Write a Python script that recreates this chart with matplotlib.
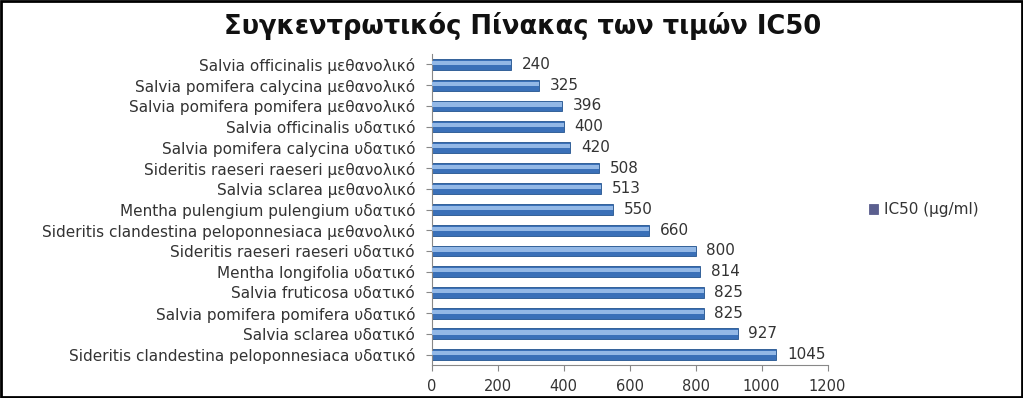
import matplotlib.pyplot as plt
from matplotlib.patches import Rectangle

plt.rcParams['font.family'] = ['DejaVu Sans']

# categories, top to bottom as in the chart
labels = [
    'Salvia officinalis μεθανολικό',
    'Salvia pomifera calycina μεθανολικό',
    'Salvia pomifera pomifera μεθανολικό',
    'Salvia officinalis υδατικό',
    'Salvia pomifera calycina υδατικό',
    'Sideritis raeseri raeseri μεθανολικό',
    'Salvia sclarea μεθανολικό',
    'Mentha pulengium pulengium υδατικό',
    'Sideritis clandestina peloponnesiaca μεθανολικό',
    'Sideritis raeseri raeseri υδατικό',
    'Mentha longifolia υδατικό',
    'Salvia fruticosa υδατικό',
    'Salvia pomifera pomifera υδατικό',
    'Salvia sclarea υδατικό',
    'Sideritis clandestina peloponnesiaca υδατικό',
]
ic50 = [240, 325, 396, 400, 420, 508, 513, 550, 660, 800, 814, 825, 825, 927, 1045]
series_name = 'IC50 (μg/ml)'
x_ticks = [0, 200, 400, 600, 800, 1000, 1200]

fig = plt.figure(figsize=(10.23, 3.98), dpi=100)
ax = fig.add_axes([0.422, 0.083, 0.387, 0.781])

y = list(range(len(labels)))[::-1]
bars = ax.barh(y, ic50, height=0.52, color='#3a70b8', edgecolor='#24548f',
               linewidth=0.6, label=series_name, zorder=2)
# lighter stripe to hint the 3D gradient look
ax.barh([v + 0.07 for v in y], ic50, height=0.2, color='#93b8e6',
        linewidth=0, zorder=3)

for yy, v in zip(y, ic50):
    ax.text(v + 32, yy, str(v), va='center', ha='left', fontsize=11,
            color='#333333')

ax.set_yticks(y)
ax.set_yticklabels(labels, fontsize=11, color='#333333')
ax.set_xticks(x_ticks)
ax.set_xticklabels([str(t) for t in x_ticks], fontsize=10.5, color='#333333')
ax.set_xlim(0, 1200)
ax.set_ylim(-0.5, len(labels) - 0.5)

for s in ['top', 'right']:
    ax.spines[s].set_visible(False)
ax.spines['left'].set_color('#888888')
ax.spines['bottom'].set_color('#888888')
ax.tick_params(axis='y', length=4, color='#888888', pad=8)
ax.tick_params(axis='x', length=4, color='#888888', pad=6)

leg = ax.legend(handles=[bars], loc='center left', bbox_to_anchor=(1.07, 0.5),
                frameon=False, fontsize=11, handlelength=0.6, handleheight=0.6,
                handletextpad=0.4)
leg.legend_handles[0].set_color('#5b5f8f')
for t in leg.get_texts():
    t.set_color('#333333')

fig.text(0.511, 0.935, 'Συγκεντρωτικός Πίνακας των τιμών IC50', ha='center',
         va='center', fontsize=18.5, fontweight='bold', color='#111111')

fig.patches.append(Rectangle((0.001, 0.003), 0.998, 0.994, transform=fig.transFigure,
                             fill=False, edgecolor='black', linewidth=2))

fig.savefig('out.png', dpi=100)
